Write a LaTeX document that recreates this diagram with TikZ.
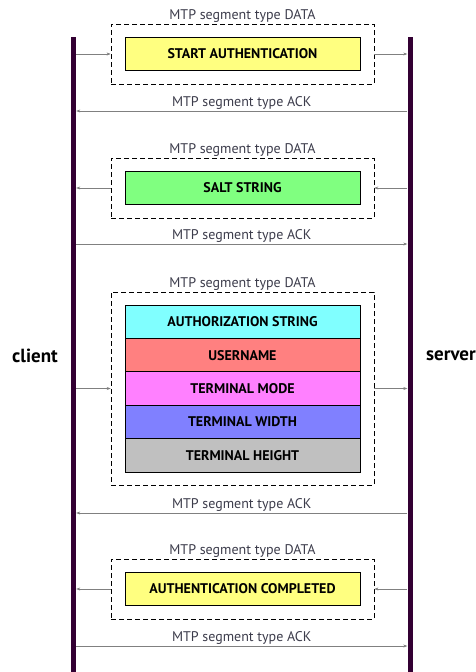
\documentclass[tikz,border=0pt]{standalone}
\usepackage{fontspec}
\setmainfont{PT Sans}
\usetikzlibrary{positioning,arrows.meta}
\definecolor{lifepurple}{RGB}{51,0,51}
\definecolor{startyellow}{RGB}{255,255,128}
\definecolor{saltgreen}{RGB}{128,255,128}
\definecolor{authcyan}{RGB}{128,255,255}
\definecolor{userred}{RGB}{255,128,128}
\definecolor{modemagenta}{RGB}{255,128,255}
\definecolor{widthblue}{RGB}{128,128,255}
\definecolor{heightgray}{RGB}{192,192,192}
\definecolor{labelgray}{RGB}{60,60,75}

\begin{document}
\begin{tikzpicture}[x=1pt,y=-1pt,
  lifeline/.style={fill=lifepurple, minimum width=5pt, minimum height=640pt, inner sep=0pt},
  segbox/.style={draw, dash pattern=on 5pt off 3pt, minimum width=263pt, minimum height=60pt},
  field/.style={draw, thick, outer sep=0pt, minimum width=235pt, minimum height=33.4pt, inner sep=0pt, font=\fontsize{14}{16}\selectfont\bfseries},
  seglabel/.style={font=\fontsize{14}{16}\selectfont, text=labelgray, inner sep=1pt},
  msg/.style={-{Stealth[length=4pt,width=3pt]}, gray, line width=0.5pt}]
\useasboundingbox (0,0) rectangle (476,672);

% Lifelines
\node[lifeline] (client) at (73.5,357) {};
\node[lifeline] (server) at (410,357) {};
\node[font=\fontsize{19}{22}\selectfont\bfseries] (clientname) at (35,356) {client};
\node[font=\fontsize{19}{22}\selectfont\bfseries] (servername) at (451,356) {server};

% START AUTHENTICATION
\node[segbox, thick] (seg1) at (242.5,54) {};
\node[field, fill=startyellow] (start) at (seg1) {START AUTHENTICATION};
\node[seglabel, above=0pt of seg1] (seg1lbl) {MTP segment type DATA};
\draw[msg] (client.east |- seg1.west) -- (seg1.west);
\draw[msg] (seg1.east) -- (server.west |- seg1.east);
\coordinate (ack1) at (0,111);
\draw[msg] (server.west |- ack1) -- node[seglabel, above] (ack1lbl) {MTP segment type ACK} (client.east |- ack1);

% SALT STRING
\node[segbox, semithick] (seg2) at (242.5,188) {};
\node[field, fill=saltgreen] (salt) at (seg2) {SALT STRING};
\node[seglabel, above=0pt of seg2] (seg2lbl) {MTP segment type DATA};
\draw[msg] (server.west |- seg2.east) -- (seg2.east);
\draw[msg] (seg2.west) -- (client.east |- seg2.west);
\coordinate (ack2) at (0,244);
\draw[msg] (client.east |- ack2) -- node[seglabel, above] (ack2lbl) {MTP segment type ACK} (server.west |- ack2);

% AUTHORIZATION STRING ... TERMINAL HEIGHT
\node[segbox, semithick, minimum height=193pt] (seg3) at (242.5,388.5) {};
\node[field, fill=authcyan] (auth) at (242.5,321.7) {AUTHORIZATION STRING};
\node[field, fill=userred, below=0pt of auth] (user) {USERNAME};
\node[field, fill=modemagenta, below=0pt of user] (mode) {TERMINAL MODE};
\node[field, fill=widthblue, below=0pt of mode] (width) {TERMINAL WIDTH};
\node[field, fill=heightgray, below=0pt of width] (height) {TERMINAL HEIGHT};
\node[seglabel, above=0pt of seg3] (seg3lbl) {MTP segment type DATA};
\draw[msg] (client.east |- seg3.west) -- (seg3.west);
\draw[msg] (seg3.east) -- (server.west |- seg3.east);
\coordinate (ack3) at (0,513);
\draw[msg] (server.west |- ack3) -- node[seglabel, above] (ack3lbl) {MTP segment type ACK} (client.east |- ack3);

% AUTHENTICATION COMPLETED
\node[segbox, thick] (seg4) at (242.5,589) {};
\node[field, fill=startyellow] (done) at (seg4) {AUTHENTICATION COMPLETED};
\node[seglabel, above=0pt of seg4] (seg4lbl) {MTP segment type DATA};
\draw[msg] (server.west |- seg4.east) -- (seg4.east);
\draw[msg] (seg4.west) -- (client.east |- seg4.west);
\coordinate (ack4) at (0,646);
\draw[msg] (client.east |- ack4) -- node[seglabel, above] (ack4lbl) {MTP segment type ACK} (server.west |- ack4);
\end{tikzpicture}
\end{document}
